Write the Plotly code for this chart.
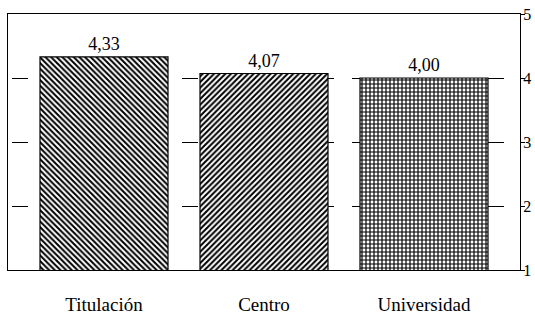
import plotly.graph_objects as go

categories = ["Titulación", "Centro", "Universidad"]
values = [4.33, 4.07, 4.00]
patterns = ["\\", "/", "+"]
y_ticks = [1, 2, 3, 4, 5]

font = "Liberation Serif, Times New Roman, serif"

fig = go.Figure()
fig.add_trace(go.Bar(
    x=categories,
    y=values,
    width=0.8,
    text=values,
    texttemplate="%{y:.2f}",
    textposition="outside",
    cliponaxis=False,
    textfont=dict(family=font, size=18, color="black"),
    marker=dict(
        color="white",
        line=dict(color="black", width=1.2),
        pattern=dict(shape=patterns, fgcolor="black", bgcolor="white",
                     size=4, solidity=0.5, fillmode="replace"),
    ),
))

fig.update_layout(
    width=535, height=314,
    margin=dict(l=8, r=15, t=14, b=44, autoexpand=False),
    paper_bgcolor="white", plot_bgcolor="white",
    separators=",.",
    showlegend=False,
    font=dict(family=font, size=16, color="black"),
    xaxis=dict(
        range=[-0.6, 2.6], automargin=False,
        showline=True, linecolor="black", linewidth=1.2, mirror=True,
        showgrid=False, ticks="", ticklabelstandoff=17,
        ticklabeloverflow="allow",
        tickfont=dict(family=font, size=19, color="black"),
    ),
    yaxis=dict(
        range=[1, 5], side="right", automargin=False,
        tickvals=y_ticks,
        showline=True, linecolor="black", linewidth=1.2, mirror=True,
        ticks="outside", ticklen=4, tickcolor="black",
        ticklabelstandoff=-5,
        ticklabeloverflow="allow",
        showgrid=True, gridcolor="black", gridwidth=1,
        griddash="0px,4px,16px,14px",
        zeroline=False,
        tickfont=dict(family=font, size=16, color="black"),
    ),
)

fig.write_html(
    "out.html",
    config={"displayModeBar": False},
    post_script="document.body.style.margin='0';document.body.style.overflow='hidden';",
)
